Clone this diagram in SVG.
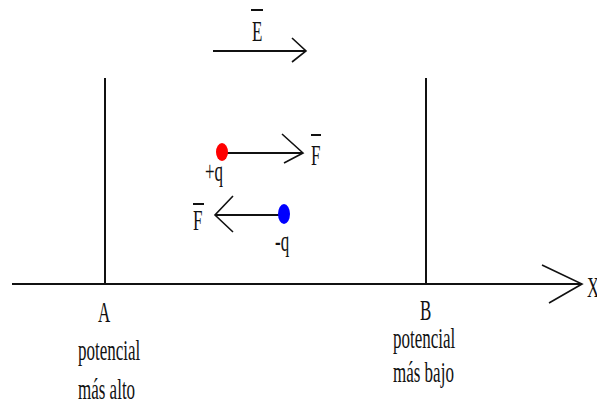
<svg xmlns="http://www.w3.org/2000/svg" width="597" height="403" viewBox="0 0 597 403">
<style>
.ln{stroke:#111;stroke-width:2;fill:none;stroke-linecap:butt}
.ah{stroke:#111;stroke-width:1.6;fill:none}
.t{font-family:"Liberation Serif","Times New Roman",serif;font-size:17px;fill:#111}
.bar{stroke:#111;stroke-width:2}
</style>
<rect width="597" height="403" fill="#fff"/>
<g id="connectors">
<line class="ln" x1="12" y1="284" x2="582" y2="284"/>
<polyline class="ah" points="542,265 582,284 549,303"/>
<line class="ln" x1="213" y1="51" x2="305" y2="51"/>
<polyline class="ah" points="292,38 306,51 292,62"/>
<line class="ln" x1="222" y1="153" x2="302" y2="153"/>
<polyline class="ah" points="282,134 303,153 284,163"/>
<line class="ln" x1="284" y1="215" x2="216" y2="215"/>
<polyline class="ah" points="233,196 215,215 233,232"/>
</g>
<g id="plateA"><line class="ln" x1="105" y1="78" x2="105" y2="284"/></g>
<g id="plateB"><line class="ln" x1="426" y1="78" x2="426" y2="284"/></g>
<g id="chargePos">
<ellipse cx="222" cy="152" rx="6" ry="9" fill="#f00"/>
<text class="t" transform="translate(205,181) scale(1,1.75)">+q</text>
</g>
<g id="chargeNeg">
<ellipse cx="284" cy="214" rx="6" ry="10" fill="#00f"/>
<text class="t" transform="translate(275,251) scale(1,1.75)">-q</text>
</g>
<g id="fieldE">
<line class="bar" x1="251" y1="10" x2="263" y2="10"/>
<text class="t" transform="translate(252,41) scale(1,1.75)">E</text>
</g>
<g id="forceRight">
<line class="bar" x1="311" y1="135" x2="321" y2="135"/>
<text class="t" transform="translate(311,165) scale(1,1.75)">F</text>
</g>
<g id="forceLeft">
<line class="bar" x1="193" y1="204" x2="204" y2="204"/>
<text class="t" transform="translate(193,230) scale(1,1.75)">F</text>
</g>
<g id="labelA">
<text class="t" transform="translate(98,322) scale(1,1.75)">A</text>
<text class="t" transform="translate(78,360) scale(1,1.75)">potencial</text>
<text class="t" transform="translate(78,399) scale(1,1.75)">más alto</text>
</g>
<g id="labelB">
<text class="t" transform="translate(420,320) scale(1,1.75)">B</text>
<text class="t" transform="translate(393,348) scale(1,1.75)">potencial</text>
<text class="t" transform="translate(393,382) scale(1,1.75)">más bajo</text>
</g>
<g id="axisX">
<text class="t" transform="translate(587,297) scale(1,1.75)">X</text>
</g>
</svg>
